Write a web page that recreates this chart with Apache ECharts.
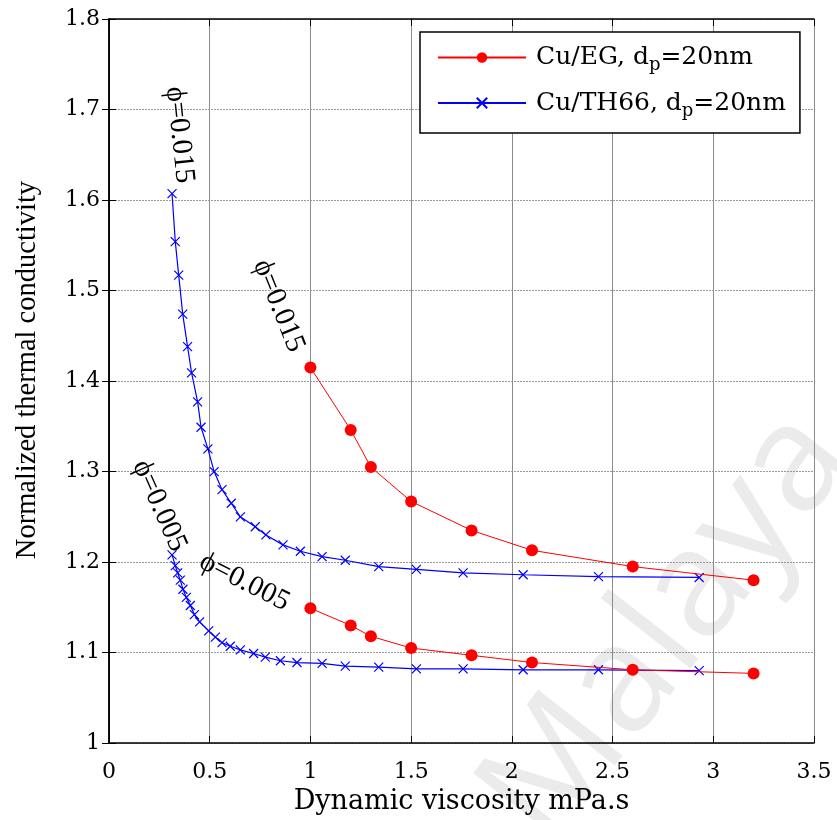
<!DOCTYPE html>
<html>
<head>
<meta charset="utf-8">
<script src="https://cdn.jsdelivr.net/npm/echarts@6/dist/echarts.min.js"></script>
<style>
html,body{margin:0;padding:0;background:#fff;}
#chart{width:837px;height:820px;}
</style>
</head>
<body>
<div id="chart"></div>
<script>
// ---- data ----
const xTickLabels = ['0', '0.5', '1', '1.5', '2', '2.5', '3', '3.5'];
const yTickLabels = ['1', '1.1', '1.2', '1.3', '1.4', '1.5', '1.6', '1.7', '1.8'];

const egX    = [1.0, 1.2, 1.3, 1.5, 1.8, 2.1, 2.6, 3.2];
const egHigh = [1.415, 1.346, 1.305, 1.267, 1.235, 1.213, 1.195, 1.180];
const egLow  = [1.149, 1.130, 1.118, 1.105, 1.097, 1.089, 1.081, 1.077];

const thHighX = [0.313, 0.329, 0.346, 0.366, 0.390, 0.410, 0.440, 0.457, 0.491, 0.522, 0.561, 0.607, 0.652,
                 0.726, 0.779, 0.864, 0.950, 1.058, 1.173, 1.339, 1.526, 1.758, 2.056, 2.430, 2.930];
const thHigh  = [1.607, 1.554, 1.517, 1.474, 1.438, 1.409, 1.377, 1.349, 1.325, 1.300, 1.280, 1.265, 1.250,
                 1.239, 1.230, 1.219, 1.212, 1.206, 1.202, 1.195, 1.192, 1.188, 1.186, 1.184, 1.183];

const thLowX = [0.313, 0.329, 0.341, 0.354, 0.367, 0.384, 0.404, 0.424, 0.450, 0.495, 0.528, 0.561, 0.602,
                0.652, 0.718, 0.776, 0.851, 0.933, 1.058, 1.173, 1.339, 1.526, 1.758, 2.056, 2.430, 2.930];
const thLow  = [1.208, 1.196, 1.188, 1.180, 1.170, 1.161, 1.152, 1.142, 1.134, 1.124, 1.117, 1.111, 1.107,
                1.103, 1.099, 1.095, 1.091, 1.089, 1.088, 1.085, 1.084, 1.082, 1.082, 1.081, 1.081, 1.080];

const seriesNames = ['Cu/EG, dp=20nm', 'Cu/TH66, dp=20nm'];
const legendRich = ['{h|Cu/EG, d}{s|p}{a|=20nm}', '{h|Cu/TH66, d}{s|p}{a|=20nm}'];

// annotation text anchored in data coordinates: [x, y, text, angleDeg]
const annotations = [
  [0.350, 1.672, 'ϕ=0.015', -84],
  [0.842, 1.483, 'ϕ=0.015', -68],
  [0.250, 1.262, 'ϕ=0.005', -66],
  [0.672, 1.178, 'ϕ=0.005', -27]
];

const pair = (xs, ys) => xs.map((x, i) => [x, ys[i]]);

const serif = 'Liberation Serif, Times New Roman, serif';
const wide = 'DejaVu Serif, serif';
const RED = '#ff0000', BLUE = '#0000ff';
const xMark = 'path://M0,0L10,10M10,0L0,10';

const chart = echarts.init(document.getElementById('chart'), null, {renderer: 'canvas'});

const baseAxis = {
  axisLine: {show: true, lineStyle: {color: '#000', width: 1.5}},
  axisTick: {show: true, inside: true, length: 7, lineStyle: {color: '#000', width: 1}},
};

const option = {
  animation: false,
  backgroundColor: '#fff',
  grid: {left: 109, right: 23, top: 19, bottom: 76, containLabel: false},
  legend: {
    orient: 'vertical',
    left: 420, top: 32,
    data: seriesNames,
    backgroundColor: '#fff',
    borderColor: '#000', borderWidth: 1.5,
    padding: [13, 14, 13, 17],
    itemWidth: 88, itemHeight: 13, itemGap: 16,
    formatter: name => legendRich[seriesNames.indexOf(name)],
    textStyle: {
      fontFamily: wide, fontSize: 25, color: '#000',
      rich: {
        a: {fontFamily: wide, fontSize: 25, color: '#000'},
        h: {fontFamily: wide, fontSize: 25, color: '#000', padding: [0, 0, 0, 5]},
        s: {fontFamily: wide, fontSize: 18, color: '#000', padding: [16, 0, 0, 0]}
      }
    }
  },
  xAxis: [
    Object.assign({}, baseAxis, {
      type: 'value', min: 0, max: 3.5, interval: 0.5, position: 'bottom',
      name: 'Dynamic viscosity mPa.s', nameLocation: 'middle', nameGap: 43,
      nameTextStyle: {fontFamily: wide, fontSize: 27, color: '#000'},
      axisLabel: {fontFamily: wide, fontSize: 22, color: '#000', margin: 18,
                  formatter: (v) => xTickLabels[Math.round(v / 0.5)]},
      splitLine: {show: true, lineStyle: {color: '#8c8c8c', width: 1, type: 'solid'}}
    }),
    Object.assign({}, baseAxis, {
      type: 'value', min: 0, max: 3.5, interval: 0.5, position: 'top',
      axisLabel: {show: false}, splitLine: {show: false}
    })
  ],
  yAxis: [
    Object.assign({}, baseAxis, {
      type: 'value', min: 1, max: 1.8, interval: 0.1, position: 'left',
      name: 'Normalized thermal conductivity', nameLocation: 'middle', nameGap: 67, nameRotate: 90,
      nameTextStyle: {fontFamily: serif, fontSize: 28.5, color: '#000', padding: [0, 0, 0, 22]},
      axisLabel: {fontFamily: wide, fontSize: 22, color: '#000', margin: 9,
                  formatter: (v) => yTickLabels[Math.round((v - 1) / 0.1)]},
      splitLine: {show: true, lineStyle: {color: '#9a9a9a', width: 1, type: [2, 1]}}
    }),
    Object.assign({}, baseAxis, {
      type: 'value', min: 1, max: 1.8, interval: 0.1, position: 'right',
      axisLabel: {show: false}, splitLine: {show: false}
    })
  ],
  series: [
    {
      name: seriesNames[0], type: 'line', data: pair(egX, egHigh),
      symbol: 'circle', symbolSize: 12, z: 5,
      lineStyle: {color: RED, width: 1}, itemStyle: {color: RED}
    },
    {
      name: seriesNames[0], type: 'line', data: pair(egX, egLow),
      symbol: 'circle', symbolSize: 12, z: 5,
      lineStyle: {color: RED, width: 1}, itemStyle: {color: RED}
    },
    {
      name: seriesNames[1], type: 'line', data: pair(thHighX, thHigh),
      symbol: xMark, symbolSize: 9, z: 4,
      lineStyle: {color: BLUE, width: 1.2},
      itemStyle: {color: BLUE, borderColor: BLUE, borderWidth: 1.2}
    },
    {
      name: seriesNames[1], type: 'line', data: pair(thLowX, thLow),
      symbol: xMark, symbolSize: 9, z: 4,
      lineStyle: {color: BLUE, width: 1.2},
      itemStyle: {color: BLUE, borderColor: BLUE, borderWidth: 1.2}
    }
  ]
};

chart.setOption(option);

// annotations placed through the chart's own scales
const graphics = [{
  type: 'text', z: -1, silent: true,
  x: 668, y: 628, rotation: 52 * Math.PI / 180,
  style: {text: 'Malaya', fontFamily: 'Open Sans, DejaVu Sans, sans-serif', fontSize: 150,
          fill: '#ebebeb', align: 'center', verticalAlign: 'middle'}
}];
annotations.forEach(a => {
  const p = chart.convertToPixel({xAxisIndex: 0, yAxisIndex: 0}, [a[0], a[1]]);
  graphics.push({
    type: 'text', z: 10, x: p[0], y: p[1], rotation: a[3] * Math.PI / 180,
    style: {text: a[2], fontFamily: serif, fontSize: 29, fill: '#000',
            align: 'center', verticalAlign: 'middle'}
  });
});
chart.setOption({graphic: graphics});
</script>
</body>
</html>
